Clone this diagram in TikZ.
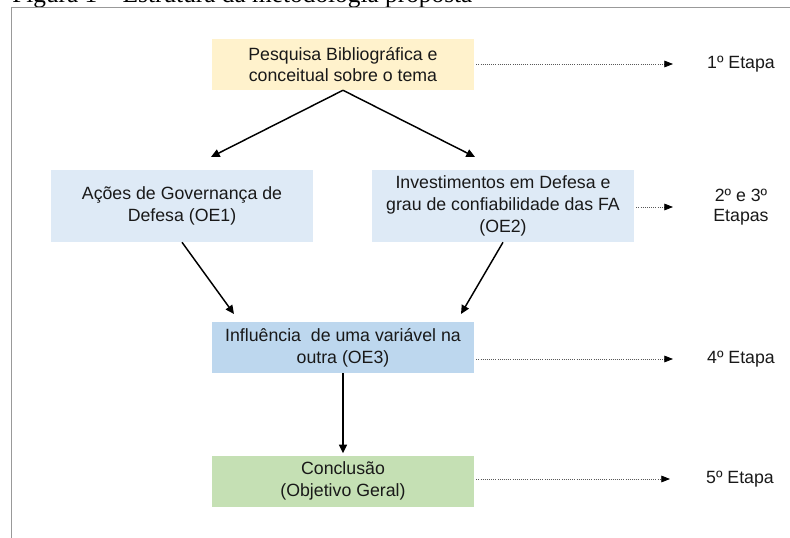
\documentclass[tikz,border=0pt]{standalone}
\usepackage{fontspec}
\setmainfont{Liberation Sans}
\newfontfamily\figfont{Liberation Serif}
\usetikzlibrary{arrows.meta,positioning}
\definecolor{boxyellow}{HTML}{FFF2CC}
\definecolor{boxblue}{HTML}{DEEAF6}
\definecolor{boxmid}{HTML}{BDD7EE}
\definecolor{boxgreen}{HTML}{C5E0B4}
\tikzstyle{stepbox}=[rectangle,minimum width=196.5pt,minimum height=38.25pt,inner sep=0pt,align=center,font=\fontsize{13.3}{16.4}\selectfont,text=black!90]
\tikzstyle{etapa}=[align=center,inner sep=0pt,font=\fontsize{13.3}{15.2}\selectfont,text=black!90]
\tikzstyle{arr}=[-{Triangle[length=6.5pt,width=6pt]},line width=1.1pt]
\tikzstyle{dotarr}=[densely dotted,line width=0.6pt,draw=black!65,shorten <=1.5pt,-{Triangle[length=6.5pt,width=5pt,color=black]}]

\begin{document}
\begin{tikzpicture}[x=0.75pt,y=-0.75pt]
  \useasboundingbox (0,0) rectangle (790,538);
  \clip (0,0) rectangle (790,538);

  \node[anchor=base west,inner sep=0pt,font=\figfont\fontsize{19}{22}\selectfont] (cap) at (12,3) {Figura 1 – Estrutura da metodologia proposta};
  \draw[black!40,line width=0.75pt] (11.5,538) -- (11.5,8) -- (790,8);

  \node[stepbox,fill=boxyellow]                    (pesq)  at (343,64.5) {Pesquisa Bibliográfica e\\conceitual sobre o tema};
  \node[stepbox,fill=boxblue,minimum height=54pt]  (gov)   at (182,206)  {Ações de Governança de\\Defesa (OE1)};
  \node[stepbox,fill=boxblue,minimum height=54pt]  (inv)   at (503,206)  {Investimentos em Defesa e\\grau de confiabilidade das FA\\(OE2)};
  \node[stepbox,fill=boxmid]                       (infl)  at (343,347.5) {Influência\ \ de uma variável na\\outra (OE3)};
  \node[stepbox,fill=boxgreen] (concl) [below=61.5pt of infl] {Conclusão\\(Objetivo Geral)};

  \node[etapa] (et1) at (741,64)  {1º Etapa};
  \node[etapa] (et2) at (741,207) {2º e 3º\\Etapas};
  \node[etapa] (et4) at (741,359) {4º Etapa};
  \node[etapa] (et5) at (740,479) {5º Etapa};

  % ends of the arrows
  \coordinate (g1) at (211,157);
  \coordinate (g2) at (475,157);
  \coordinate (h1) at (234,314);
  \coordinate (h2) at (461,314);
  \coordinate (t1) at (673,64);
  \coordinate (t2) at (673,207);
  \coordinate (t4) at (673,359);
  \coordinate (t5) at (670,479);

  \path[arr] (pesq.south) edge (g1)
                          edge (g2)
             (gov.south)  edge (h1)
             (inv.south)  edge (h2)
             (infl.south) edge[shorten >=1.5pt] (concl.north);

  \draw[dotarr] (pesq.east |- t1) -- (t1);
  \draw[dotarr] (inv.east |- t2) -- (t2);
  \draw[dotarr] (infl.east |- t4) -- (t4);
  \draw[dotarr] (concl.east |- t5) -- (t5);
\end{tikzpicture}
\end{document}
